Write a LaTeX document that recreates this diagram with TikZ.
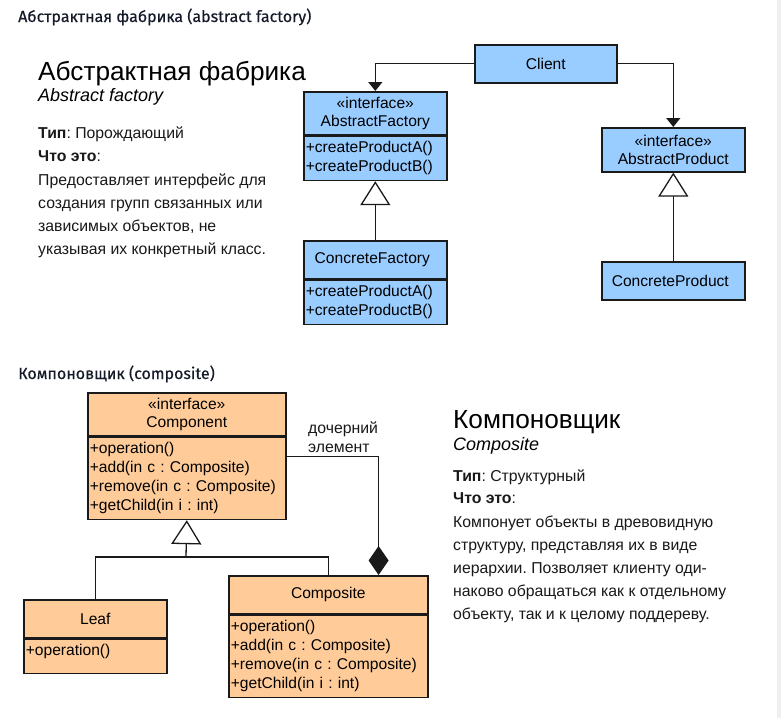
\documentclass[tikz,border=0pt]{standalone}
\usepackage{fontspec}
\setmainfont{Liberation Sans}
\newfontfamily\firaf[FakeBold=0.35]{Fira Sans}
\usetikzlibrary{arrows.meta}
\frenchspacing
\definecolor{bluefill}{HTML}{99CCFF}
\definecolor{orfill}{HTML}{FFCC99}
\definecolor{edgec}{HTML}{1A1A1A}
\definecolor{headc}{HTML}{141A28}
\definecolor{stripc}{HTML}{EFEFEF}
\tikzset{
  box/.style={draw=edgec, line width=1.6pt, rectangle, inner sep=0pt, anchor=north west},
  bbox/.style={box, fill=bluefill},
  obox/.style={box, fill=orfill},
  cname/.style={font=\fontsize{15.6}{18.5}\selectfont, align=center},
  opsbox/.style={font=\fontsize{15.6}{19}\selectfont, align=left, inner xsep=2pt, inner ysep=0pt},
  conn/.style={draw=edgec, line width=1.3pt},
  gen/.style={conn, -{Triangle[fill=white, width=30pt, length=24pt, line width=1.3pt]}},
  assoc/.style={conn, -{Triangle[width=14pt, length=9pt]}},
  comp/.style={conn, -{Diamond[width=20pt, length=29pt]}},
  header/.style={font=\firaf\fontsize{16}{18}\selectfont, text=headc, anchor=base west, inner sep=0pt},
  bigtitle/.style={font=\fontsize{26.2}{28}\selectfont, anchor=base west, inner sep=0pt},
  subtitle/.style={font=\itshape\fontsize{18}{20}\selectfont, anchor=base west, inner sep=0pt},
  desc/.style={font=\fontsize{15.8}{18}\selectfont, anchor=base west, inner sep=0pt, text=black!90},
}
\begin{document}
\begin{tikzpicture}[x=1pt, y=-1pt]
\fill[white] (0,0) rectangle (781,718);
\fill[stripc] (777,0) rectangle (781,718);
\path[use as bounding box] (0,0) rectangle (781,718);

% ---------- Abstract factory ----------
\node[header] (h1) at (18,22) {Абстрактная фабрика (abstract factory)};
\node[bigtitle] (t1) at (38,80) {Абстрактная фабрика};
\node[subtitle] (s1) at (38,101) {Abstract factory};
\node[desc] (d1a) at (38,138) {\textbf{Тип}: Порождающий};
\node[desc] (d1b) at (38,161) {\textbf{Что это}:};
\node[desc] (d1c) at (38,185) {Предоставляет интерфейс для};
\node[desc] (d1d) at (38,208) {создания групп связанных или};
\node[desc] (d1e) at (38,231) {зависимых объектов, не};
\node[desc] (d1f) at (38,254) {указывая их конкретный класс.};

\node[bbox, cname, minimum width=142pt, minimum height=38pt] (client) at (474,44) {Client};
\node[bbox, cname, minimum width=143pt, minimum height=43pt] (af) at (303,91) {«interface»\\AbstractFactory};
\node[bbox, opsbox, text width=139pt, minimum height=44pt] (afops) at (af.south west) {+createProductA()\\+createProductB()};
\node[bbox, cname, minimum width=143pt, minimum height=44pt] (ap) at (601,127) {«interface»\\AbstractProduct};
\node[bbox, cname, minimum width=143pt, minimum height=38pt] (cf) at (303,240) {ConcreteFactory\hspace*{6pt}};
\node[bbox, opsbox, text width=139pt, minimum height=44pt] (cfops) at (cf.south west) {+createProductA()\\+createProductB()};
\node[bbox, cname, minimum width=143pt, minimum height=38pt] (cp) at (601,261) {ConcreteProduct\hspace*{6pt}};

\draw[assoc] (client.west) -| (af.north);
\draw[assoc] (client.east) -| (ap.north);
\draw[gen] (cf.north) -- (afops.south);
\draw[gen] (cp.north) -- (ap.south);

% ---------- Composite ----------
\node[header] (h2) at (18,379) {Компоновщик (composite)};
\node[bigtitle] (t2) at (453,428) {Компоновщик};
\node[subtitle] (s2) at (453,450) {Composite};
\node[desc] (d2a) at (453,481) {\textbf{Тип}: Структурный};
\node[desc] (d2b) at (453,503) {\textbf{Что это}:};
\node[desc] (d2c) at (453,527) {Компонует объекты в древовидную};
\node[desc] (d2d) at (453,550) {структуру, представляя их в виде};
\node[desc] (d2e) at (453,573) {иерархии. Позволяет клиенту оди-};
\node[desc] (d2f) at (453,596) {наково обращаться как к отдельному};
\node[desc] (d2g) at (453,619) {объекту, так и к целому поддереву.};

\node[obox, cname, minimum width=198pt, minimum height=43pt] (cmp) at (87,392) {«interface»\\Component};
\node[obox, opsbox, text width=194pt, minimum height=82pt] (cmpops) at (cmp.south west)
  {+operation()\\+add(in c : Composite)\\+remove(in c : Composite)\\+getChild(in i : int)};
\node[obox, cname, minimum width=143pt, minimum height=38pt] (leaf) at (23,599) {Leaf};
\node[obox, opsbox, text width=139pt, minimum height=34pt] (leafops) at (leaf.south west) {+operation()\rule[-14pt]{0pt}{14pt}};
\node[obox, cname, minimum width=199pt, minimum height=38pt] (compo) at (228,575) {Composite};
\node[obox, opsbox, text width=195pt, minimum height=82pt] (compoops) at (compo.south west)
  {+operation()\\+add(in c : Composite)\\+remove(in c : Composite)\\+getChild(in i : int)};

\coordinate (junc) at (186,557);
\draw[conn] (leaf.north) |- (junc) -| (compo.north);
\draw[gen] (junc) -- (cmpops.south);
\draw[comp] ([yshift=-20pt]cmpops.north east) -| ([xshift=-50pt]compo.north east);
\node[desc] (lbl1) at (308,433) {дочерний};
\node[desc] (lbl2) at (308,452) {элемент};
\end{tikzpicture}
\end{document}
